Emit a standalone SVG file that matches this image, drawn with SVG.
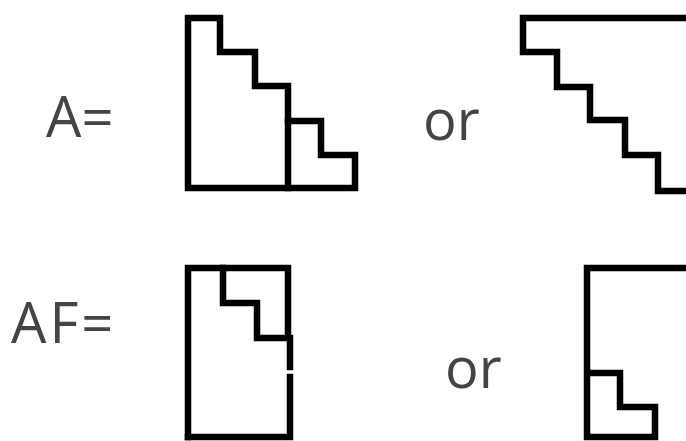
<svg xmlns="http://www.w3.org/2000/svg" width="686" height="441" viewBox="0 0 686 441">
<style>
.t{font-family:"Open Sans","Noto Sans",sans-serif;font-size:56px;fill:#444}
.s{fill:none;stroke:#000;stroke-width:6.5;stroke-linejoin:miter;stroke-linecap:square}
</style>
<rect width="686" height="441" fill="#fff"/>
<g id="label-A"><text class="t" x="46" y="137">A=</text></g>
<g id="label-or1"><text class="t" x="423" y="140">or</text></g>
<g id="label-AF"><text class="t" x="11" y="343" letter-spacing="3">AF=</text></g>
<g id="label-or2"><text class="t" x="445" y="388">or</text></g>
<g id="shape-A1">
<path class="s" d="M188,188 V18 H220 V52 H255 V86 H288 V121 H321 V155 H355 V188 Z"/>
<path class="s" d="M288,121 V188"/>
</g>
<g id="shape-A2">
<path class="s" d="M690,18 H523 V52 H557 V87 H590 V120 H625 V155 H658 V191 H690"/>
</g>
<g id="shape-AF1">
<path class="s" d="M188,437 V268 H288 V337"/>
<path class="s" d="M223,268 V303 H257 V338 H290 V367"/>
<path class="s" d="M290,377 V437 H188"/>
</g>
<g id="shape-AF2">
<path class="s" d="M690,268 H587 V437 H655 V407 H620 V373 H587"/>
</g>
</svg>
